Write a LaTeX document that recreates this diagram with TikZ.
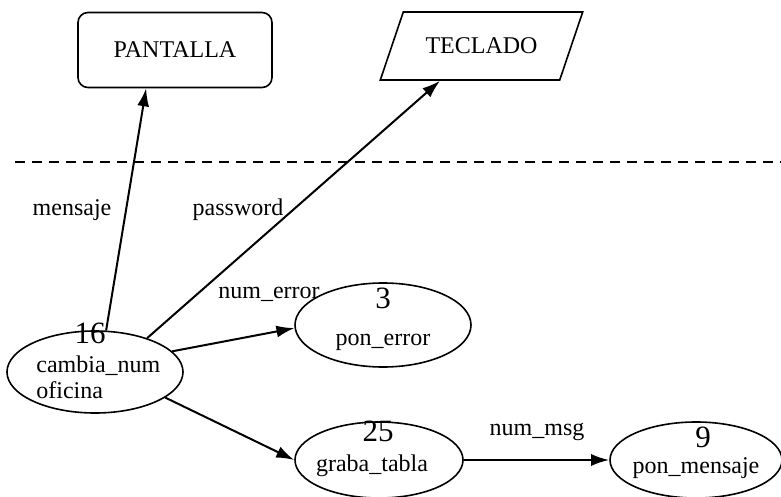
\documentclass[tikz,border=0pt]{standalone}
\usepackage{fontspec}
\setmainfont{Liberation Serif}
\usetikzlibrary{arrows.meta,shapes.geometric}

\begin{document}
\begin{tikzpicture}[
			x=0.5pt, y=-0.5pt,
			font=\fontsize{12}{14}\selectfont,
			procbox/.style={
				draw,
				ellipse,
				line width=0.8pt,
				inner sep=0pt
			},
			numlabel/.style={
				font=\fontsize{15.5}{16}\selectfont,
				inner sep=0pt
			},
			namelabel/.style={
				inner sep=0pt,
				align=left
			},
			flowlabel/.style={
				inner sep=0pt
			},
			flowarrow/.style={
				-{Latex[length=9pt,width=6pt]},
				line width=1pt
			}
		]
			\useasboundingbox (0,0) rectangle (781,497);
			
			% external entities
			\node[draw, rounded corners=5pt, line width=0.8pt,
				minimum width=97pt, minimum height=37.5pt] (pantalla) at (175,50) {PANTALLA};
			\node[draw, trapezium, trapezium stretches=true,
				trapezium left angle=58, trapezium right angle=122, line width=0.8pt,
				minimum width=101.5pt, minimum height=34pt] (teclado) at (481.5,46) {TECLADO};
			
			% system boundary
			\draw[dashed, dash pattern=on 5pt off 3.5pt, line width=0.7pt] (15,162) -- (781,162);
			
			% processes
			\node[procbox, minimum width=88pt, minimum height=41pt] (p16) at (95,372) {};
			\node[numlabel] (n16) at (90,333) {16};
			\node[namelabel, anchor=west, font=\fontsize{12}{13}\selectfont] (t16) at (36,377) {cambia\_num\\oficina};
			
			\node[procbox, minimum width=88pt, minimum height=42pt] (p3) at (383,325) {};
			\node[numlabel] (n3) at (383,298) {3};
			\node[namelabel] (t3) at (383,342) {pon\_error};
			
			\node[procbox, minimum width=84pt, minimum height=38pt] (p25) at (379,460) {};
			\node[numlabel] (n25) at (378,431) {25};
			\node[namelabel] (t25) at (372,466) {graba\_tabla};
			
			\node[procbox, minimum width=86pt, minimum height=38pt] (p9) at (696,460) {};
			\node[numlabel] (n9) at (703,437) {9};
			\node[namelabel] (t9) at (696,468) {pon\_mensaje};
			
			% flows
			\draw[flowarrow] (p16.75) -- (pantalla.233);
			\draw[flowarrow] (p16.33) -- (teclado.220);
			\draw[flowarrow] (p16.15) -- (p3.182);
			\draw[flowarrow] (p16.-20) -- (p25.west);
			\draw[flowarrow] (p25.east) -- (p9.west);
			
			\node[flowlabel] (lmensaje) at (72,210) {mensaje};
			\node[flowlabel] (lpassword) at (238,210) {password};
			\node[flowlabel] (lnumerror) at (269,294) {num\_error};
			\node[flowlabel] (lnummsg) at (537,432) {num\_msg};
			
		\end{tikzpicture}
\end{document}
